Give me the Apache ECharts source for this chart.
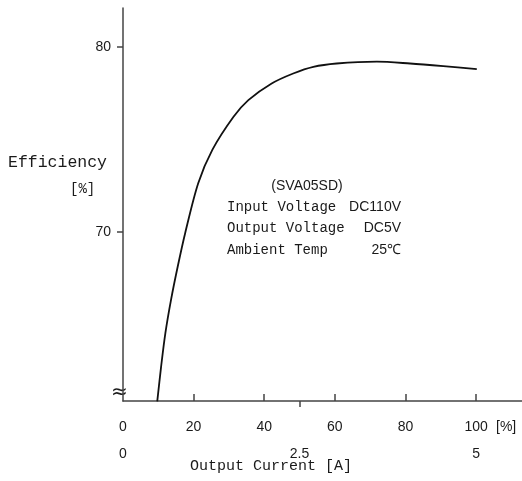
<!DOCTYPE html>
<html><head><meta charset="utf-8">
<script src="https://cdn.jsdelivr.net/npm/echarts@6/dist/echarts.min.js"></script>
<style>html,body{margin:0;padding:0;background:#fff}#c{width:522px;height:481px}</style>
</head><body><div id="c"></div>
<script>
const loadPct = [9.7, 10.8, 12.0, 13.6, 15.5, 17.6, 21.3, 25.3, 31.3, 35.5, 42.1, 48.2, 53.9, 60.5, 71.9, 81.3, 90.7, 100.2];
const efficiency = [60.84, 62.73, 64.53, 66.33, 68.13, 69.93, 72.63, 74.43, 76.22, 77.12, 78.02, 78.56, 78.92, 79.1, 79.2, 79.1, 78.96, 78.8];
const yTicks = [70, 80];
const pctTicks = [0, 20, 40, 60, 80, 100];
const ampTicks = [0, 2.5, 5];
const noteLines = [["Input Voltage", "DC110V"], ["Output Voltage", "DC5V"], ["Ambient Temp", "25℃"]];

const NUM = "'Liberation Sans Narrow','Liberation Sans',Arial,sans-serif";
const MONO = "'Liberation Mono','DejaVu Sans Mono',monospace";
const C = '#1a1a1a';

const chart = echarts.init(document.getElementById('c'));
const graphic = [
  {type:'text', left:8, top:154, style:{text:'Efficiency', font:'16.5px '+MONO, fill:C}},
  {type:'text', left:70, top:182, style:{text:'[%]', font:'14px '+MONO, fill:C}},
  {type:'text', left:496, top:420, style:{text:'[%]', font:'14px '+NUM, fill:C}},
  {type:'text', left:190, top:459, style:{text:'Output Current [A]', font:'15px '+MONO, fill:C}},
  {type:'text', left:111, top:383, style:{text:'≈', font:'20px DejaVu Sans', fill:C}},
  {type:'text', x:307, y:186, style:{text:'(SVA05SD)', font:'14px '+NUM, fill:C, align:'center', verticalAlign:'middle'}}
];
noteLines.forEach((l,i)=>{
  const y = 207 + i*21.5;
  graphic.push({type:'text', x:227, y:y, style:{text:l[0], font:'14px '+MONO, fill:C, verticalAlign:'middle'}});
  graphic.push({type:'text', x:401, y:y, style:{text:l[1], font:'14px '+NUM, fill:C, align:'right', verticalAlign:'middle'}});
});

chart.setOption({
  animation:false,
  grid:{left:123, top:8, right:0, bottom:80, containLabel:false},
  xAxis:[{
    type:'value', min:0, max:113, position:'bottom',
    axisLine:{show:true, lineStyle:{color:'#444', width:1.5}},
    axisTick:{show:true, inside:true, length:7, customValues:pctTicks.slice(1), lineStyle:{color:'#444', width:1.5}},
    axisLabel:{customValues:pctTicks, margin:19, fontFamily:NUM, fontSize:14, color:C},
    splitLine:{show:false}
  },{
    type:'value', min:0, max:113*5/100, position:'bottom',
    axisLine:{show:false},
    axisTick:{show:true, inside:false, length:6, customValues:[2.5], lineStyle:{color:'#444', width:1.5}},
    axisLabel:{customValues:ampTicks, margin:46, fontFamily:NUM, fontSize:14, color:C},
    splitLine:{show:false}
  }],
  yAxis:{
    type:'value', min:60.86, max:82.1,
    axisLine:{show:true, lineStyle:{color:'#444', width:1.5}},
    axisTick:{show:true, length:6, customValues:yTicks, lineStyle:{color:'#444', width:1.5}},
    axisLabel:{customValues:yTicks, margin:12, fontFamily:NUM, fontSize:14, color:C},
    splitLine:{show:false}
  },
  graphic:graphic,
  series:[{
    type:'line', xAxisIndex:0, smooth:0.3, symbol:'none',
    lineStyle:{color:'#111', width:1.8},
    data:loadPct.map((x,i)=>[x, efficiency[i]])
  }]
});
</script></body></html>
